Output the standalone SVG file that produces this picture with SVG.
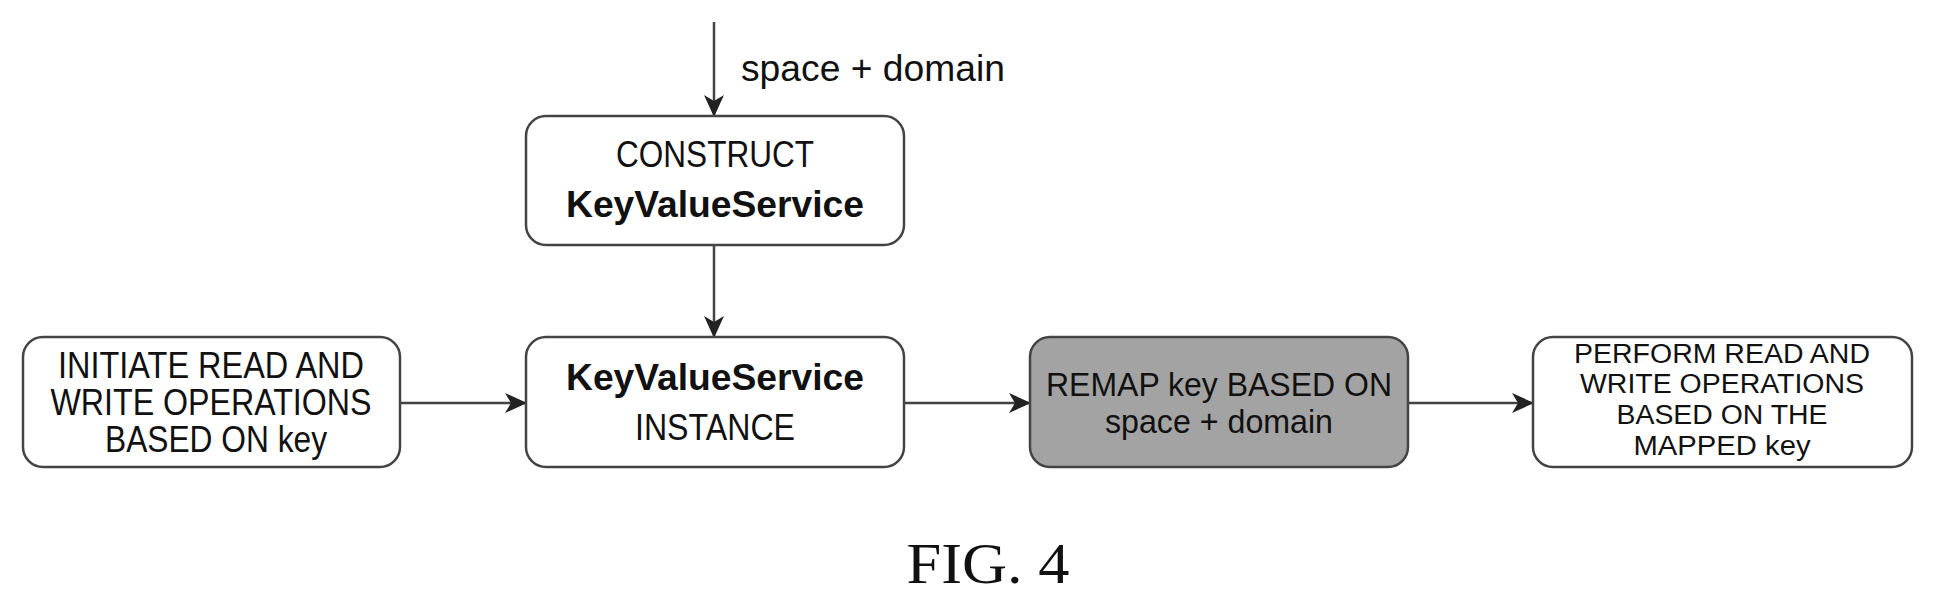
<svg xmlns="http://www.w3.org/2000/svg" width="1936" height="607" viewBox="0 0 1936 607">
<style>
.box{fill:#fff;stroke:#444;stroke-width:2.5}
.gray{fill:#a3a3a3}
.t{font-family:"Liberation Sans",Arial,sans-serif;font-size:36px;text-anchor:middle;fill:#111}
.m{font-size:33px}
.s{font-size:27px}
.b{font-weight:bold}
.c{stroke:#444;stroke-width:2.5;fill:none;marker-end:url(#ah)}
</style>
<defs>
<marker id="ah" markerWidth="22" markerHeight="20" refX="21" refY="10" orient="auto" markerUnits="userSpaceOnUse" viewBox="0 0 22 20"><path d="M0,0 L22,10 L0,20 L6,10 Z" fill="#222"/></marker>
</defs>
<rect width="1936" height="607" fill="#fff"/>
<g id="connectors">
<line class="c" x1="714" y1="22" x2="714" y2="116"/>
<line class="c" x1="714" y1="245" x2="714" y2="337"/>
<line class="c" x1="400" y1="403" x2="526" y2="403"/>
<line class="c" x1="904" y1="403" x2="1030" y2="403"/>
<line class="c" x1="1408" y1="403" x2="1533" y2="403"/>
<text class="t" x="741" y="81" style="text-anchor:start" textLength="264" lengthAdjust="spacingAndGlyphs">space + domain</text>
</g>
<g id="construct">
<rect class="box" x="526" y="116" width="378" height="129" rx="20"/>
<text class="t" x="715" y="167" textLength="198" lengthAdjust="spacingAndGlyphs">CONSTRUCT</text>
<text class="t b" x="715" y="217" textLength="298" lengthAdjust="spacingAndGlyphs">KeyValueService</text>
</g>
<g id="initiate">
<rect class="box" x="23" y="337" width="377" height="130" rx="20"/>
<text class="t" x="211" y="378" textLength="306" lengthAdjust="spacingAndGlyphs">INITIATE READ AND</text>
<text class="t" x="211" y="415" textLength="321" lengthAdjust="spacingAndGlyphs">WRITE OPERATIONS</text>
<text class="t" x="216" y="452" textLength="222" lengthAdjust="spacingAndGlyphs">BASED ON key</text>
</g>
<g id="instance">
<rect class="box" x="526" y="337" width="378" height="130" rx="20"/>
<text class="t b" x="715" y="390" textLength="298" lengthAdjust="spacingAndGlyphs">KeyValueService</text>
<text class="t" x="715" y="440" textLength="160" lengthAdjust="spacingAndGlyphs">INSTANCE</text>
</g>
<g id="remap">
<rect class="box gray" x="1030" y="337" width="378" height="130" rx="20"/>
<text class="t m" x="1219" y="396" textLength="346" lengthAdjust="spacingAndGlyphs">REMAP key BASED ON</text>
<text class="t m" x="1219" y="433" textLength="228" lengthAdjust="spacingAndGlyphs">space + domain</text>
</g>
<g id="perform">
<rect class="box" x="1533" y="337" width="379" height="130" rx="20"/>
<text class="t s" x="1722" y="363" textLength="296" lengthAdjust="spacingAndGlyphs">PERFORM READ AND</text>
<text class="t s" x="1722" y="393" textLength="284" lengthAdjust="spacingAndGlyphs">WRITE OPERATIONS</text>
<text class="t s" x="1722" y="424" textLength="211" lengthAdjust="spacingAndGlyphs">BASED ON THE</text>
<text class="t s" x="1722" y="455" textLength="177" lengthAdjust="spacingAndGlyphs">MAPPED key</text>
</g>
<text x="988" y="583" font-family="'Liberation Serif','Times New Roman',serif" font-size="58" text-anchor="middle" fill="#111" textLength="163" lengthAdjust="spacingAndGlyphs">FIG. 4</text>
</svg>
